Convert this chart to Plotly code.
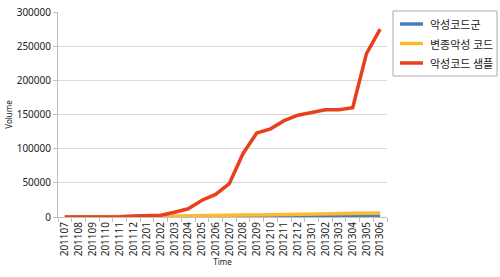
import plotly.graph_objects as go

months = ["201107","201108","201109","201110","201111","201112","201201","201202",
          "201203","201204","201205","201206","201207","201208","201209","201210",
          "201211","201212","201301","201302","201303","201304","201305","201306"]
family = [0,0,0,0,0,0,0,0,0,0,0,0,0,0,0,100,200,300,400,500,700,900,1100,1500]
variant = [0,0,0,0,0,200,500,1000,1500,2000,2200,2400,2600,2800,3000,3200,3400,3600,3800,4000,4600,5000,5400,6000]
samples = [0,0,0,0,500,1500,2500,2500,7000,12000,24500,33000,49000,93000,123000,129000,
           141000,149000,153000,157000,157000,160000,239000,275000]
names = ["악성코드군", "변종악성 코드", "악성코드 샘플"]
colors = ["#4a7ebb", "#fdb92f", "#e8401c"]

W, H = 500, 277
L, R, T, B = 58, 113, 12, 60
PW, PH = W - L - R, H - T - B

def px(x):
    return (x - L) / PW

def py(y):
    return (H - B - y) / PH

fig = go.Figure()
for ys, nm, c in zip([family, variant, samples], names, colors):
    fig.add_trace(go.Scatter(x=months, y=ys, mode="lines", name=nm,
                             line=dict(color=c, width=3.5), showlegend=False))

# custom legend box
fig.add_shape(type="rect", xref="paper", yref="paper",
              x0=px(393), x1=px(497), y0=py(11), y1=py(76),
              line=dict(color="#aaaaaa", width=1), fillcolor="white")
for i, (nm, c) in enumerate(zip(names, colors)):
    yy = 24 + i * 19.5
    fig.add_shape(type="line", xref="paper", yref="paper",
                  x0=px(400), x1=px(423), y0=py(yy), y1=py(yy),
                  line=dict(color=c, width=3.5))
    fig.add_annotation(xref="paper", yref="paper", x=px(428), y=py(yy),
                       xanchor="left", yanchor="middle", text=nm, showarrow=False,
                       font=dict(family="Noto Sans CJK KR", size=11, color="#222"))

fig.update_layout(
    width=W, height=H,
    margin=dict(l=L, r=R, t=T, b=B, autoexpand=False),
    paper_bgcolor="white", plot_bgcolor="white",
    font=dict(family="Noto Sans, Noto Sans CJK KR", size=10, color="#222"),
    showlegend=False,
)
fig.update_xaxes(type="category", range=[-0.5, 23.5], tickangle=-90,
                 tickson="boundaries",
                 showline=True, linecolor="#bfbfbf", ticks="outside",
                 tickcolor="#bfbfbf", ticklen=4, showgrid=False,
                 tickfont=dict(size=10),
                 title=dict(text="Time", font=dict(size=8), standoff=2))
fig.update_yaxes(range=[0, 300000], dtick=50000, tickformat="d",
                 showgrid=True, gridcolor="#d9d9d9",
                 showline=True, linecolor="#bfbfbf", zeroline=False,
                 ticks="outside", tickcolor="#bfbfbf", ticklen=4,
                 tickfont=dict(size=10),
                 title=dict(text="Volume", font=dict(size=8), standoff=2))

fig.write_html("out.html")
